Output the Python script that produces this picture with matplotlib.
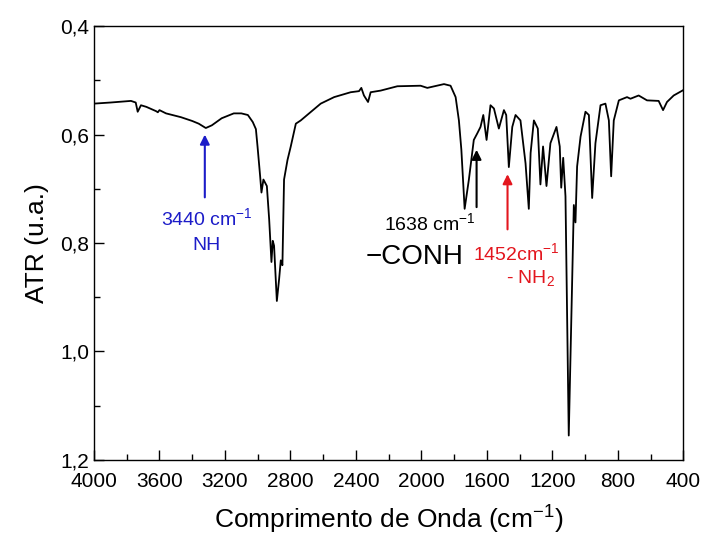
import matplotlib
matplotlib.use("Agg")
import matplotlib.pyplot as plt
from matplotlib.ticker import MultipleLocator, FuncFormatter

plt.rcParams['font.family'] = ['Liberation Sans', 'DejaVu Sans']
plt.rcParams['mathtext.default'] = 'regular'

wavenumber = [4000, 3900, 3774, 3745, 3733, 3713, 3680, 3650, 3620, 3610, 3600, 3560,
              3469, 3400, 3360, 3317, 3280, 3220, 3146, 3100, 3060, 3030, 3011, 3001,
              2985, 2977, 2965, 2944, 2930, 2916, 2908, 2900, 2883, 2869, 2859, 2849,
              2839, 2818, 2798, 2767, 2737, 2686, 2615, 2533, 2432, 2381, 2367, 2351,
              2326, 2310, 2249, 2147, 2005, 1964, 1862, 1822, 1791, 1771, 1756, 1736,
              1710, 1680, 1659, 1639, 1622, 1602, 1578, 1557, 1527, 1496, 1482, 1466,
              1445, 1425, 1395, 1364, 1344, 1333, 1313, 1289, 1273, 1257, 1236, 1212,
              1175, 1155, 1146, 1134, 1120, 1100, 1069, 1059, 1049, 1028, 998, 977,
              957, 937, 906, 876, 855, 841, 825, 794, 744, 723, 673, 622, 551, 524,
              500, 459, 400]
atr = [0.543, 0.541, 0.538, 0.541, 0.558, 0.546, 0.549, 0.553, 0.557, 0.559, 0.555, 0.561,
       0.568, 0.575, 0.580, 0.588, 0.583, 0.570, 0.561, 0.561, 0.564, 0.577, 0.590, 0.622,
       0.677, 0.707, 0.683, 0.695, 0.756, 0.835, 0.796, 0.805, 0.907, 0.866, 0.832, 0.841,
       0.683, 0.647, 0.622, 0.580, 0.574, 0.561, 0.543, 0.531, 0.522, 0.520, 0.514, 0.528,
       0.540, 0.522, 0.519, 0.511, 0.510, 0.514, 0.507, 0.510, 0.531, 0.574, 0.628, 0.737,
       0.683, 0.610, 0.598, 0.586, 0.564, 0.610, 0.546, 0.552, 0.589, 0.555, 0.564, 0.660,
       0.586, 0.564, 0.574, 0.653, 0.737, 0.634, 0.574, 0.589, 0.692, 0.622, 0.695, 0.616,
       0.586, 0.622, 0.698, 0.643, 0.714, 1.155, 0.730, 0.762, 0.659, 0.604, 0.558, 0.564,
       0.717, 0.616, 0.546, 0.543, 0.574, 0.677, 0.574, 0.537, 0.531, 0.534, 0.528, 0.537,
       0.538, 0.555, 0.540, 0.528, 0.518]

fig = plt.figure(figsize=(7.05, 5.43), dpi=100)
ax = fig.add_axes([0.1333, 0.153, 0.836, 0.799])
ax.plot(wavenumber, atr, color='black', lw=1.3)

ax.set_xlim(4000, 400)
ax.set_ylim(1.2, 0.4)
ax.xaxis.set_major_locator(MultipleLocator(400))
ax.xaxis.set_minor_locator(MultipleLocator(200))
ax.yaxis.set_major_locator(MultipleLocator(0.2))
ax.yaxis.set_minor_locator(MultipleLocator(0.1))
ax.yaxis.set_major_formatter(FuncFormatter(lambda v, p: f"{v:.1f}".replace('.', ',')))
ax.xaxis.set_major_formatter(FuncFormatter(lambda v, p: f"{int(round(v))}"))
ax.tick_params(which='both', direction='in', top=False, right=False, labelsize=15)
ax.tick_params(which='major', length=7, width=1)
ax.tick_params(which='minor', length=4.5, width=1)
ax.tick_params(axis='x', which='major', pad=9)
for s in ax.spines.values():
    s.set_linewidth(1.0)

ax.set_xlabel('Comprimento de Onda (cm$^{-1}$)', fontsize=19, labelpad=9)
ax.set_ylabel('ATR (u.a.)', fontsize=19, labelpad=8)

blue = '#1c1cc8'
red = '#e3161e'
ap = dict(arrowstyle='-|>', lw=1.5, mutation_scale=14)
ax.annotate('', xy=(3323, 0.595), xytext=(3323, 0.721), arrowprops=dict(color=blue, **ap))
ax.text(3310, 0.754, '3440 cm$^{-1}$', color=blue, fontsize=14, ha='center', va='center')
ax.text(3310, 0.805, 'NH', color=blue, fontsize=14, ha='center', va='center')

ax.annotate('', xy=(1663, 0.623), xytext=(1663, 0.739), arrowprops=dict(color='black', **ap))
ax.text(1950, 0.763, '1638 cm$^{-1}$', color='black', fontsize=14, ha='center', va='center')
ax.text(2044, 0.826, '\u2212CONH', color='black', fontsize=20, ha='center', va='center')

ax.annotate('', xy=(1474, 0.668), xytext=(1474, 0.780), arrowprops=dict(color=red, **ap))
ax.text(1422, 0.818, '1452cm$^{-1}$', color=red, fontsize=14, ha='center', va='center')
ax.text(1483, 0.864, '- NH$_2$', color=red, fontsize=14, ha='left', va='center')

fig.savefig('out.png', dpi=100)
